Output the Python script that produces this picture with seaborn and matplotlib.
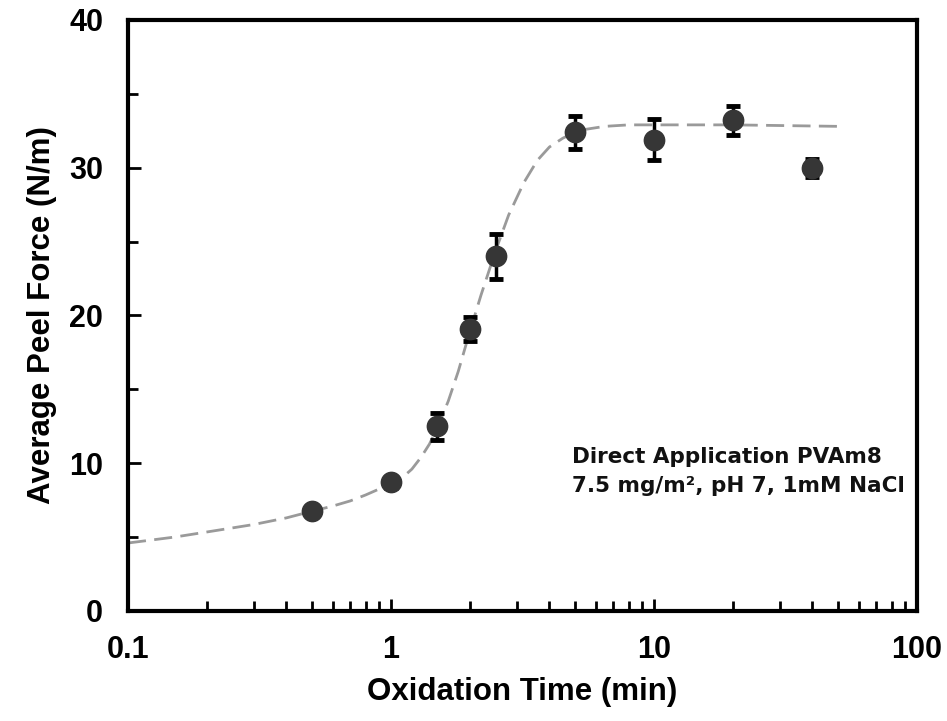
import numpy as np
import pandas as pd
import matplotlib
matplotlib.use("Agg")
import matplotlib.pyplot as plt
import seaborn as sns

# measured points
ox_time = [0.5, 1.0, 1.5, 2.0, 2.5, 5.0, 10.0, 20.0, 40.0]
peel_force = [6.8, 8.7, 12.5, 19.1, 24.0, 32.4, 31.9, 33.2, 30.0]
peel_err = [0.3, 0.4, 0.9, 0.8, 1.5, 1.1, 1.4, 1.0, 0.6]

# fitted curve
fit_time = [0.1, 0.15, 0.2, 0.3, 0.4, 0.5, 0.6, 0.7, 0.8, 0.9, 1.0, 1.1, 1.2,
            1.3, 1.4, 1.5, 1.65, 1.8, 2.0, 2.2, 2.5, 2.8, 3.2, 3.6, 4.0, 4.5,
            5.0, 5.5, 6.5, 8.0, 10.0, 20.0, 50.0]
fit_force = [4.6, 5.0, 5.35, 5.85, 6.3, 6.75, 7.1, 7.45, 7.85, 8.25, 8.6, 9.0,
             9.6, 10.4, 11.3, 12.4, 14.2, 16.2, 19.0, 21.4, 24.4, 26.8, 29.0,
             30.5, 31.4, 32.0, 32.4, 32.6, 32.8, 32.9, 32.9, 32.9, 32.8]

sns.set_style("ticks")
plt.rcParams['font.family'] = ['Liberation Sans', 'DejaVu Sans']
plt.rcParams['font.weight'] = 'bold'
for k in ['text.color', 'axes.labelcolor', 'xtick.color', 'ytick.color']:
    plt.rcParams[k] = 'black'

fig = plt.figure(figsize=(9.47, 7.21), dpi=100)
ax = fig.add_axes([0.1352, 0.1526, 0.8332, 0.8197])

fit_df = pd.DataFrame({"t": fit_time, "f": fit_force})
sns.lineplot(data=fit_df, x="t", y="f", ax=ax, color="#9a9a9a", lw=2.0,
             linestyle=(0, (6.5, 3)), zorder=2)

ax.errorbar(ox_time, peel_force, yerr=peel_err, fmt="none", ecolor="black",
            elinewidth=2.5, capsize=5, capthick=3.5, zorder=3)
pts = pd.DataFrame({"t": ox_time, "f": peel_force})
sns.scatterplot(data=pts, x="t", y="f", ax=ax, s=210, color="#363636",
                edgecolor="#363636", zorder=4)

ax.set_xscale("log")
ax.set_xlim(0.1, 100)
ax.set_ylim(0, 40)
ax.set_yticks([0, 10, 20, 30, 40])
ax.set_yticks([5, 15, 25, 35], minor=True)
ax.set_xticks([0.1, 1, 10, 100])
ax.set_xticklabels(["0.1", "1", "10", "100"])

for s in ax.spines.values():
    s.set_linewidth(3)
    s.set_color("black")
    s.set_visible(True)

ax.tick_params(axis="both", which="major", direction="in", length=9, width=2,
               labelsize=22)
ax.tick_params(axis="both", which="minor", direction="in", length=7, width=2)
ax.tick_params(axis="y", which="major", pad=18)
ax.tick_params(axis="x", which="major", pad=17)

ax.set_xlabel("Oxidation Time (min)", fontsize=22.5, fontweight="bold", labelpad=9)
ax.set_ylabel("Average Peel Force (N/m)", fontsize=22.5, fontweight="bold", labelpad=9)

ax.text(0.563, 0.2504, "Direct Application PVAm8", transform=ax.transAxes,
        ha="left", va="baseline", fontsize=15.5, fontweight="bold",
        family=["DejaVu Sans"], color="#111111")
ax.text(0.563, 0.2014, "7.5 mg/m\u00b2, pH 7, 1mM NaCl", transform=ax.transAxes,
        ha="left", va="baseline", fontsize=15.5, fontweight="bold",
        family=["DejaVu Sans"], color="#111111")

fig.savefig("out.png", dpi=100)
